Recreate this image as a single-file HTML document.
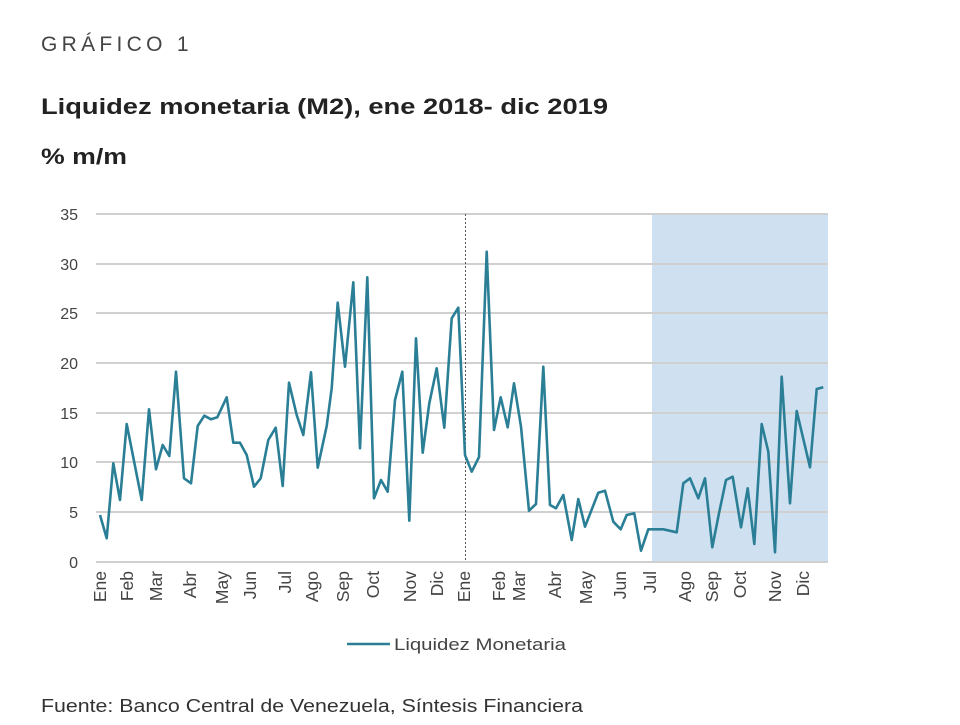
<!DOCTYPE html>
<html><head><meta charset="utf-8"><style>
body{margin:0;background:#fff;}
svg text{font-family:"Liberation Sans",Arial,sans-serif;}
</style></head><body>
<svg width="960" height="720" viewBox="0 0 960 720" xmlns="http://www.w3.org/2000/svg">
<rect width="960" height="720" fill="#fff"/>
<text x="41" y="51" font-size="21" fill="#444" letter-spacing="4.3">GRÁFICO 1</text>
<text x="41" y="114" font-size="22" font-weight="bold" fill="#222" textLength="567" lengthAdjust="spacingAndGlyphs">Liquidez monetaria (M2), ene 2018- dic 2019</text>
<text x="41" y="164" font-size="22" font-weight="bold" fill="#222" textLength="86" lengthAdjust="spacingAndGlyphs">% m/m</text>
<rect x="652" y="213" width="176" height="349" fill="#cfe0f1"/>
<g stroke="#d0d0d0" stroke-width="2">
<line x1="96" x2="828" y1="214" y2="214"/>
<line x1="96" x2="828" y1="264" y2="264"/>
<line x1="96" x2="828" y1="313" y2="313"/>
<line x1="96" x2="828" y1="363" y2="363"/>
<line x1="96" x2="828" y1="413" y2="413"/>
<line x1="96" x2="828" y1="462" y2="462"/>
<line x1="96" x2="828" y1="512" y2="512"/>
<line x1="96" x2="828" y1="562" y2="562"/>
</g>
<line x1="465.5" x2="465.5" y1="214" y2="562" stroke="#555" stroke-width="1" stroke-dasharray="2,2"/>
<g font-size="16" fill="#444" text-anchor="end">
<text x="78" y="220">35</text><text x="78" y="270">30</text><text x="78" y="319">25</text><text x="78" y="369">20</text><text x="78" y="419">15</text><text x="78" y="468">10</text><text x="78" y="518">5</text><text x="78" y="568">0</text>
</g>
<polyline fill="none" stroke="#2a7f96" stroke-width="2.6" stroke-linejoin="round" points="100,515 106.7,538.3 113.3,463.3 120,500 126.7,424 141.7,500 149,409.3 156,469.3 162.7,445 169.3,456 176,371.7 184,478.3 191,483.3 197.7,426 204.3,415.7 211,419.3 217.3,417.3 226.7,397.3 233.3,442.7 240,442.7 246.7,455 254,486.7 260.7,478.3 268.3,440 275.7,427.7 282.7,486 289,382.7 296.7,415 303.3,435 311,372.3 317.7,467.7 326.7,426 331.7,388.3 337.7,302.7 345,366.7 353.3,282.3 360,448.3 367.3,277.3 374,498.3 381,480 387.7,491.7 395,400 402.3,371.7 409.3,520.7 416,338.3 422.7,452.7 429.3,403.3 436.7,368.3 444.3,427.7 451.7,318.3 458.3,307.7 465,455 471.7,471.7 479,457 486.7,251.7 494,430 500.7,397.3 507.7,427.3 514,383.3 521,426.7 529,510.7 536,504 543.3,366.7 550,505 556,508.3 563.3,495 571.7,540 578.3,499 585,526.7 598.3,492.7 605,490.7 613.3,521.7 620.7,529.3 626.7,515 634.3,513.3 641,550.7 648.3,529.3 663.3,529.3 676.7,532.3 683.3,483.3 690,478.3 698.3,498.3 705,478.3 712.3,547.3 719,513.3 726,480 732.7,476.7 741,527.3 747.7,488.3 754.3,544 761.7,424 768.3,451.7 775,552.3 781.7,376.7 790,503.3 796.7,411 810,467.3 816.7,389 823.3,387.3"/>
<g font-size="17.5" fill="#444" text-anchor="end">
<text transform="translate(106,571) rotate(-90)">Ene</text>
<text transform="translate(133,571) rotate(-90)">Feb</text>
<text transform="translate(162,571) rotate(-90)">Mar</text>
<text transform="translate(196,571) rotate(-90)">Abr</text>
<text transform="translate(228,571) rotate(-90)">May</text>
<text transform="translate(256,571) rotate(-90)">Jun</text>
<text transform="translate(291,571) rotate(-90)">Jul</text>
<text transform="translate(318,571) rotate(-90)">Ago</text>
<text transform="translate(349,571) rotate(-90)">Sep</text>
<text transform="translate(379,571) rotate(-90)">Oct</text>
<text transform="translate(416,571) rotate(-90)">Nov</text>
<text transform="translate(443,571) rotate(-90)">Dic</text>
<text transform="translate(470,571) rotate(-90)">Ene</text>
<text transform="translate(505,571) rotate(-90)">Feb</text>
<text transform="translate(525,571) rotate(-90)">Mar</text>
<text transform="translate(561,571) rotate(-90)">Abr</text>
<text transform="translate(592,571) rotate(-90)">May</text>
<text transform="translate(626,571) rotate(-90)">Jun</text>
<text transform="translate(656,571) rotate(-90)">Jul</text>
<text transform="translate(691,571) rotate(-90)">Ago</text>
<text transform="translate(718,571) rotate(-90)">Sep</text>
<text transform="translate(746,571) rotate(-90)">Oct</text>
<text transform="translate(781,571) rotate(-90)">Nov</text>
<text transform="translate(809,571) rotate(-90)">Dic</text>
</g>
<line x1="347" x2="390" y1="644" y2="644" stroke="#2a7f96" stroke-width="2.6"/>
<text x="394" y="650" font-size="16.5" fill="#444" textLength="172" lengthAdjust="spacingAndGlyphs">Liquidez Monetaria</text>
<text x="41" y="712" font-size="18" fill="#333" textLength="542" lengthAdjust="spacingAndGlyphs">Fuente: Banco Central de Venezuela, Síntesis Financiera</text>
</svg>
</body></html>
